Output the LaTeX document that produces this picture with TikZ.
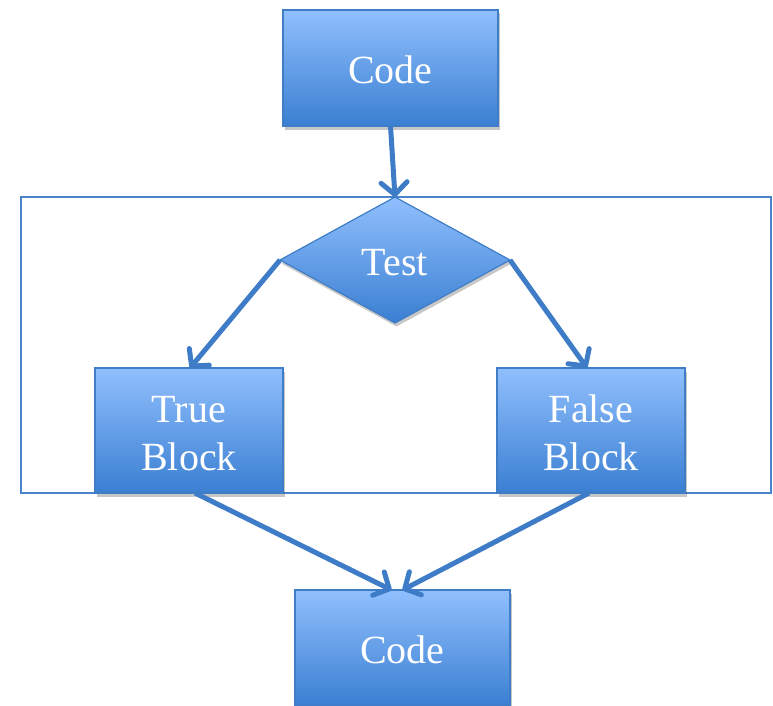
\documentclass[tikz,border=0pt]{standalone}
\usepackage{fontspec}
\setmainfont{Liberation Serif}
\usetikzlibrary{shapes.geometric,arrows.meta,shadows}
\definecolor{topc}{HTML}{90BFFD}
\definecolor{botc}{HTML}{3A7FD2}
\definecolor{edgec}{HTML}{3F7DC6}
\definecolor{arrc}{HTML}{3E7CC8}
\definecolor{framec}{HTML}{4A84CC}
\tikzset{
  shp/.style={draw=edgec, line width=1.2pt, top color=topc, bottom color=botc,
    text=white, font=\fontsize{40}{48}\selectfont, align=center,
    inner sep=0pt, outer sep=0pt,
    drop shadow={shadow xshift=1.5pt, shadow yshift=-3.5pt, opacity=0.22, fill=black}},
  box/.style={shp, rectangle},
  decision/.style={shp, diamond, aspect=1.825},
  arr/.style={draw=arrc, line width=5pt,
    -{Straight Barb[length=12pt,width=26pt,round]}},
  frame/.style={draw=framec, line width=2pt}
}
\begin{document}
\begin{tikzpicture}[x=1pt,y=-1pt]
\useasboundingbox (0,0) rectangle (773,706);
\clip (0,0) rectangle (773,706);
\draw[frame] (21,197) rectangle (771,493);
\node[box, minimum width=215pt, minimum height=116pt, text height=32pt] (c1) at (390.5,68) {Code};
\node[decision, minimum width=230pt, minimum height=126pt, text height=31pt] (test) at (395,260) {Test};
\node[box, minimum width=188pt, minimum height=125pt, text height=80pt] (tb) at (189,430.5) {True\\Block};
\node[box, minimum width=188pt, minimum height=125pt, text height=80pt] (fb) at (591,430.5) {False\\Block};
\node[box, minimum width=215pt, minimum height=116pt, text height=32pt] (c2) at (402.5,648) {Code};
\draw[arr] (c1.south) -- (test.north);
\draw[arr] (test.west) -- ([xshift=1pt]tb.north);
\draw[arr] (test.east) -- ([xshift=-4pt]fb.north);
\draw[arr] ([xshift=6pt]tb.south) -- ([xshift=-11pt]c2.north);
\draw[arr] ([xshift=-2pt]fb.south) -- ([xshift=0pt]c2.north);
\end{tikzpicture}
\end{document}
